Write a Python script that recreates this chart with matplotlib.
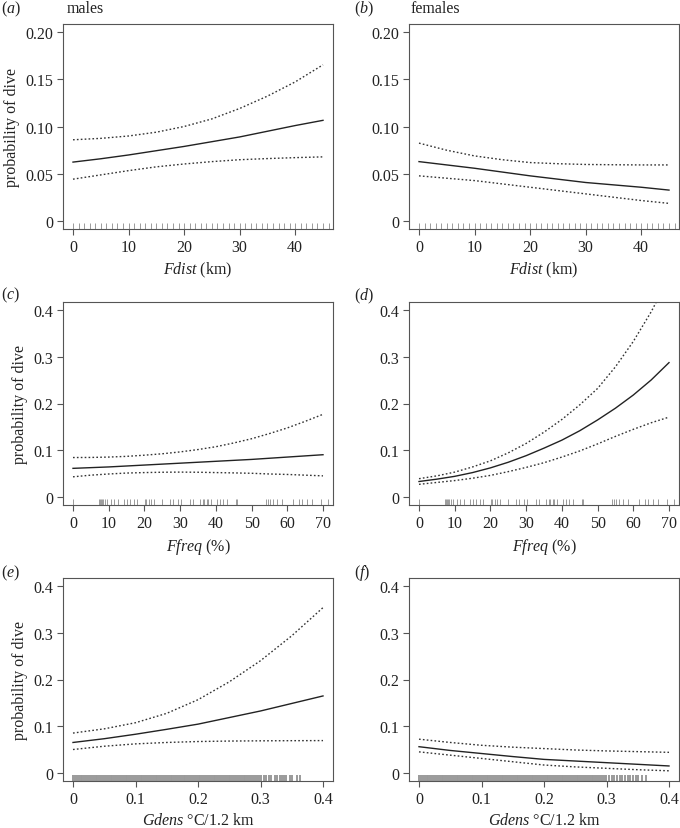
import matplotlib.pyplot as plt

plt.rcParams['font.family'] = ['Liberation Serif', 'DejaVu Serif']
plt.rcParams['mathtext.fontset'] = 'custom'
plt.rcParams['mathtext.rm'] = 'Liberation Serif'
plt.rcParams['mathtext.it'] = 'Liberation Serif:italic'

# ---- data ----
fdist_x = [0, 5, 10, 15, 20, 25, 30, 35, 40, 45]
males_fdist_fit = [0.0625, 0.066, 0.070, 0.0745, 0.079, 0.084, 0.089, 0.095, 0.101, 0.1065]
males_fdist_hi = [0.086, 0.0875, 0.090, 0.094, 0.100, 0.108, 0.119, 0.132, 0.147, 0.165]
males_fdist_lo = [0.0445, 0.049, 0.0535, 0.0575, 0.0605, 0.063, 0.065, 0.0662, 0.0672, 0.068]
females_fdist_fit = [0.063, 0.0595, 0.056, 0.052, 0.048, 0.0445, 0.041, 0.0385, 0.036, 0.033]
females_fdist_hi = [0.0825, 0.075, 0.069, 0.065, 0.062, 0.0608, 0.060, 0.0597, 0.0595, 0.0595]
females_fdist_lo = [0.048, 0.0455, 0.043, 0.0395, 0.036, 0.0325, 0.029, 0.0255, 0.022, 0.019]

ffreq_x = [0, 5, 10, 15, 20, 25, 30, 35, 40, 45, 50, 55, 60, 65, 70]
males_ffreq_fit = [0.062, 0.0635, 0.065, 0.067, 0.069, 0.071, 0.073, 0.075, 0.077, 0.079,
                   0.081, 0.0835, 0.086, 0.0885, 0.091]
males_ffreq_hi = [0.085, 0.0852, 0.086, 0.0875, 0.090, 0.093, 0.097, 0.102, 0.108, 0.116,
                  0.125, 0.136, 0.148, 0.162, 0.177]
males_ffreq_lo = [0.044, 0.0475, 0.050, 0.052, 0.053, 0.0537, 0.054, 0.0537, 0.053, 0.0523,
                  0.0515, 0.050, 0.049, 0.0475, 0.046]
females_ffreq_fit = [0.034, 0.039, 0.045, 0.053, 0.063, 0.075, 0.089, 0.105, 0.122, 0.142,
                     0.165, 0.190, 0.218, 0.250, 0.287]
females_ffreq_hi = [0.040, 0.046, 0.054, 0.065, 0.078, 0.095, 0.115, 0.139, 0.166, 0.197,
                    0.232, 0.278, 0.332, 0.395, 0.468]
females_ffreq_lo = [0.028, 0.032, 0.036, 0.041, 0.047, 0.055, 0.064, 0.074, 0.086, 0.099,
                    0.114, 0.130, 0.145, 0.159, 0.171]

gdens_x = [0, 0.05, 0.1, 0.15, 0.2, 0.25, 0.3, 0.35, 0.4]
males_gdens_fit = [0.066, 0.074, 0.0835, 0.094, 0.105, 0.119, 0.133, 0.149, 0.165]
males_gdens_hi = [0.086, 0.095, 0.108, 0.128, 0.157, 0.195, 0.240, 0.293, 0.353]
males_gdens_lo = [0.051, 0.058, 0.063, 0.066, 0.068, 0.069, 0.0695, 0.0698, 0.070]
females_gdens_fit = [0.057, 0.049, 0.0425, 0.036, 0.030, 0.0265, 0.023, 0.0195, 0.016]
females_gdens_hi = [0.073, 0.066, 0.060, 0.056, 0.053, 0.050, 0.048, 0.0465, 0.045]
females_gdens_lo = [0.046, 0.039, 0.032, 0.025, 0.018, 0.014, 0.011, 0.008, 0.0057]

# rug values (observations)
fdist_rug = [0, 1, 2, 3, 4, 5, 6, 7, 8, 9, 10, 11, 12, 13, 14, 15, 16, 17, 18, 19, 20, 21, 22, 23,
             24, 25, 26, 27, 28, 29, 30, 31, 32, 33, 34, 35, 36, 37, 38, 39, 40, 41, 42, 43, 44,
             45, 46]
ffreq_rug = [0, 7.3, 7.6, 7.9, 8.1, 8.5, 8.9, 9.5, 10.5, 11.5, 12.7, 14.2, 15.0, 15.9, 17.0,
             18.0, 20.1, 20.5, 21.2, 21.8, 22.7, 24.8, 27.2, 28.0, 29.3, 30.1, 32.7, 33.6, 35.6,
             36.3, 36.7, 37.4, 37.9, 38.6, 40.3, 41.2, 42.1, 43.0, 45.7, 45.9, 54.1, 54.5, 55.1,
             56.1, 57.0, 58.4, 61.7, 63.3, 64.0, 65.6, 67.0, 69.4, 71.4]
gdens_dense = [0.000, 0.003, 0.006, 0.009, 0.012, 0.015, 0.018, 0.021, 0.024, 0.027,
               0.030, 0.033, 0.036, 0.039, 0.042, 0.045, 0.048, 0.051, 0.054, 0.057,
               0.060, 0.063, 0.066, 0.069, 0.072, 0.075, 0.078, 0.081, 0.084, 0.087,
               0.090, 0.093, 0.096, 0.099, 0.102, 0.105, 0.108, 0.111, 0.114, 0.117,
               0.120, 0.123, 0.126, 0.129, 0.132, 0.135, 0.138, 0.141, 0.144, 0.147,
               0.150, 0.153, 0.156, 0.159, 0.162, 0.165, 0.168, 0.171, 0.174, 0.177,
               0.180, 0.183, 0.186, 0.189, 0.192, 0.195, 0.198, 0.201, 0.204, 0.207,
               0.210, 0.213, 0.216, 0.219, 0.222, 0.225, 0.228, 0.231, 0.234, 0.237,
               0.240, 0.243, 0.246, 0.249, 0.252, 0.255, 0.258, 0.261, 0.264, 0.267,
               0.270, 0.273, 0.276, 0.279, 0.282, 0.285, 0.288, 0.291, 0.294, 0.297]
males_gdens_tail = [0.301, 0.305, 0.309, 0.314, 0.317, 0.323, 0.326, 0.331, 0.335, 0.337,
                    0.341, 0.347, 0.351, 0.358, 0.363]
females_gdens_tail = [0.299, 0.304, 0.308, 0.312, 0.316, 0.321, 0.324, 0.330, 0.334, 0.338,
                      0.343, 0.347, 0.350, 0.356, 0.363]

fdist_ticks = [0, 10, 20, 30, 40]
ffreq_ticks = [0, 10, 20, 30, 40, 50, 60, 70]
gdens_ticks = [0, 0.1, 0.2, 0.3, 0.4]
yticks_small = [0, 0.05, 0.10, 0.15, 0.20]
ylabels_small = ['0', '0.05', '0.10', '0.15', '0.20']
yticks_big = [0, 0.1, 0.2, 0.3, 0.4]
ylabels_big = ['0', '0.1', '0.2', '0.3', '0.4']
xtick_labels_gdens = ['0', '0.1', '0.2', '0.3', '0.4']

W, H = 680, 829
fig = plt.figure(figsize=(W / 100, H / 100), dpi=100)

def make_ax(left, top, h):
    return fig.add_axes([left / W, 1 - (top + h) / H, 270 / W, h / H])

def draw(ax, x, fit, hi, lo, rug, xticks, xlab, yt, ylab_txt, xmax, ymax,
         xtl=None, ylabel=False, rug_lw=0.6, rug_col='#8a8a8a'):
    ax.plot(x, hi, color='#333333', lw=1.0, ls=(0, (1.2, 1.6)))
    ax.plot(x, lo, color='#333333', lw=1.0, ls=(0, (1.2, 1.6)))
    ax.plot(x, fit, color='#222222', lw=1.0)
    ax.vlines(rug, 0, 0.03, transform=ax.get_xaxis_transform(), color=rug_col, lw=rug_lw)
    ax.set_xlim(-0.04 * xmax, 1.04 * xmax)
    ax.set_ylim(-0.04 * ymax, 1.04 * ymax)
    ax.set_xticks(xticks)
    if xtl is not None:
        ax.set_xticklabels(xtl)
    ax.set_yticks(yt)
    ax.set_yticklabels(ylab_txt)
    for s in ax.spines.values():
        s.set_color('#555555')
        s.set_linewidth(0.8)
    ax.tick_params(direction='out', length=4, width=0.8, color='#555555',
                   labelsize=11.5, labelcolor='#222222', pad=3)
    ax.set_xlabel(xlab, fontsize=11.5, color='#222222', labelpad=4)
    if ylabel:
        ax.set_ylabel('probability of dive', fontsize=11.5, color='#222222', labelpad=4)

ax_a = make_ax(63, 25, 205)
ax_b = make_ax(409, 25, 205)
ax_c = make_ax(63, 303, 203)
ax_d = make_ax(409, 303, 203)
ax_e = make_ax(63, 579, 203)
ax_f = make_ax(409, 579, 203)

fdist_lab = r'$\mathit{Fdist}$ (km)'
ffreq_lab = r'$\mathit{Ffreq}$ (%)'
gdens_lab = r'$\mathit{Gdens}$ °C/1.2 km'

draw(ax_a, fdist_x, males_fdist_fit, males_fdist_hi, males_fdist_lo, fdist_rug,
     fdist_ticks, fdist_lab, yticks_small, ylabels_small, 45, 0.2, ylabel=True)
draw(ax_b, fdist_x, females_fdist_fit, females_fdist_hi, females_fdist_lo, fdist_rug,
     fdist_ticks, fdist_lab, yticks_small, ylabels_small, 45, 0.2)
draw(ax_c, ffreq_x, males_ffreq_fit, males_ffreq_hi, males_ffreq_lo, ffreq_rug,
     ffreq_ticks, ffreq_lab, yticks_big, ylabels_big, 70, 0.4, ylabel=True)
draw(ax_d, ffreq_x, females_ffreq_fit, females_ffreq_hi, females_ffreq_lo, ffreq_rug,
     ffreq_ticks, ffreq_lab, yticks_big, ylabels_big, 70, 0.4)
draw(ax_e, gdens_x, males_gdens_fit, males_gdens_hi, males_gdens_lo,
     gdens_dense + males_gdens_tail, gdens_ticks, gdens_lab, yticks_big, ylabels_big,
     0.4, 0.4, xtl=xtick_labels_gdens, ylabel=True, rug_lw=1.4, rug_col='#9a9a9a')
draw(ax_f, gdens_x, females_gdens_fit, females_gdens_hi, females_gdens_lo,
     gdens_dense + females_gdens_tail, gdens_ticks, gdens_lab, yticks_big, ylabels_big,
     0.4, 0.4, xtl=xtick_labels_gdens, rug_lw=1.4, rug_col='#9a9a9a')

# panel letters and headings
def ftext(x, y, s):
    fig.text(x / W, 1 - y / H, s, fontsize=11.5, color='#222222', va='center', ha='left')

ftext(1, 9, r'($\mathit{a}$)')
ftext(67, 9, 'males')
ftext(354, 9, r'($\mathit{b}$)')
ftext(411, 9, 'females')
ftext(1, 295, r'($\mathit{c}$)')
ftext(354, 296, r'($\mathit{d}$)')
ftext(1, 573, r'($\mathit{e}$)')
ftext(354, 573, r'($\mathit{f}$)')

fig.savefig('out.png', dpi=100)
